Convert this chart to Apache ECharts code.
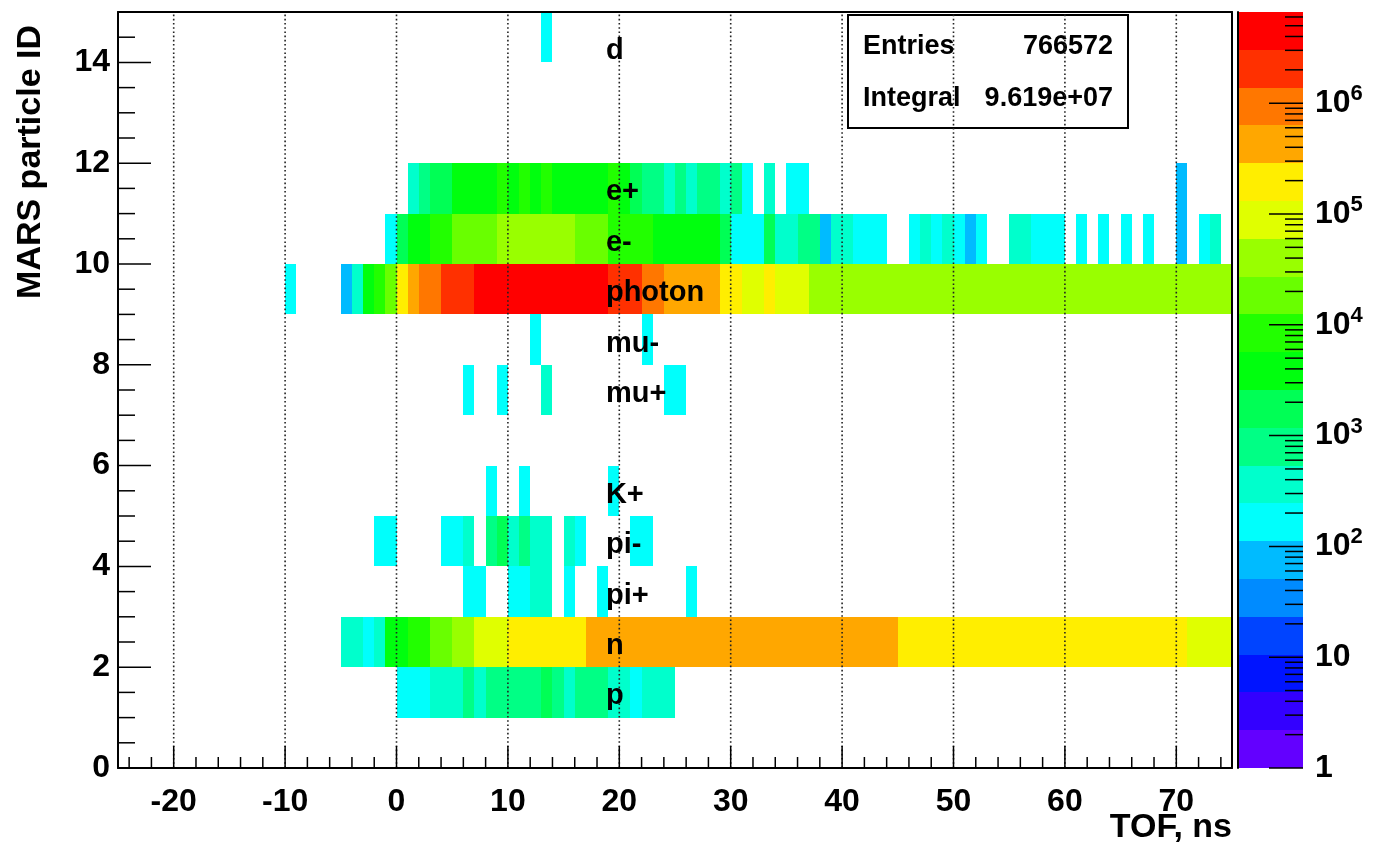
<!DOCTYPE html>
<html><head><meta charset="utf-8">
<script src="https://cdn.jsdelivr.net/npm/echarts@6/dist/echarts.min.js"></script>
<style>html,body{margin:0;padding:0;background:#fff}#c{width:1373px;height:844px}</style>
</head><body><div id="c"></div>
<script>
const FONT = '"Liberation Sans", Arial, Helvetica, sans-serif';

// ---- axes ranges ----
const xRange = [-25, 75];          // TOF, ns (1 ns bins)
const yRange = [0, 15];            // MARS particle ID
const zLogMax = 6.823;             // log10 of colour-scale maximum (min = 1)
const nContours = 20;

// ---- tick values ----
const xMajorTicks = [-20, -10, 0, 10, 20, 30, 40, 50, 60, 70];
const xMinorTicks = [-24,-22,-18,-16,-14,-12,-8,-6,-4,-2,2,4,6,8,12,14,16,18,22,24,26,28,32,34,36,38,42,44,46,48,52,54,56,58,62,64,66,68,72,74];
const yMajorTicks = [0, 2, 4, 6, 8, 10, 12, 14];
const yMinorTicks = [0.5,1,1.5,2.5,3,3.5,4.5,5,5.5,6.5,7,7.5,8.5,9,9.5,10.5,11,11.5,12.5,13,13.5,14.5];
const zMajorTicks = [0, 1, 2, 3, 4, 5, 6];
const zMinorMultipliers = [2, 3, 4, 5, 6, 7, 8, 9];

// ---- particle labels ----
const particleIds   = [1, 2, 3, 4, 5, 7, 8, 9, 10, 11, 14];
const particleNames = ['p', 'n', 'pi+', 'pi-', 'K+', 'mu+', 'mu-', 'photon', 'e-', 'e+', 'd'];
const labelY        = [1.42, 2.42, 3.42, 4.42, 5.42, 7.42, 8.42, 9.42, 10.42, 11.42, 14.22];
const labelX        = 18.8;

// ---- bin contents: first bin lower edge + contents of consecutive 1-ns bins (0 = empty) ----
const pStart = 0;
const pRow = [170,150,190,320,300,380,700,420,820,900,650,1000,1100,1900,950,480,760,850,700,400,360,200,330,290,310];

const nStart = -5;
const nRow = [350,300,200,400,3200,4500,7000,9500,15000,21000,36000,48000,70000,92000,115000,
  150000,165000,185000,200000,220000,240000,265000,
  310000,340000,370000,400000,430000,460000,480000,500000,520000,540000,560000,570000,580000,590000,
  600000,590000,580000,570000,560000,540000,520000,500000,480000,450000,420000,390000,360000,320000,
  270000,260000,250000,245000,240000,235000,230000,225000,220000,215000,210000,205000,200000,195000,
  190000,185000,180000,175000,170000,165000,160000,155000,150000,145000,140000,135000,
  125000,120000,115000,110000];

const piPlusStart = 6;
const piPlusRow = [150,140,0,0,180,200,300,280,0,160,0,0,130,0,0,0,0,0,0,0,150];

const piMinusStart = -2;
const piMinusRow = [170,150,0,0,0,0,180,160,290,0,600,1300,330,1050,380,340,0,300,190,0,0,0,0,150,140];

const kPlusStart = 8;
const kPlusRow = [140,0,0,160,0,0,0,0,0,0,0,130];

const muPlusStart = 6;
const muPlusRow = [150,0,0,170,0,0,0,320,0,0,0,0,0,0,0,0,0,0,160,180];

const muMinusStart = 12;
const muMinusRow = [150,0,0,0,0,0,0,0,0,0,140];

const photonStart = -10;
const photonRow = [130,0,0,0,0,70,330,4000,8000,15000,180000,380000,800000,1100000,1700000,2200000,2700000,
  3200000,3600000,4000000,4400000,4800000,5200000,5500000,5300000,5000000,4600000,4100000,3500000,
  2700000,2200000,1800000,1200000,900000,580000,500000,450000,400000,340000,260000,220000,
  120000,110000,140000,100000,90000,80000,
  50000,48000,47000,46000,45000,44000,44000,43000,42000,42000,41000,40000,40000,39000,39000,38000,38000,37000,37000,
  36000,36000,35000,35000,34000,34000,33000,33000,32000,32000,31000,31000,30000,30000,29000,29000,28500,28000,27500];

const eMinusStart = -1;
const eMinusRow = [150,1600,3000,3600,7000,8500,15000,18000,20000,22000,
  30000,34000,38000,42000,40000,36000,32000,24000,20000,16000,
  11000,9000,8000,7000,5000,4500,4200,3800,3400,3000,
  1500,200,180,160,1400,400,350,700,600,90,
  300,280,200,170,150,0,0,180,290,160,
  270,150,80,140,0,0,300,260,190,160,
  140,0,150,0,140,0,130,0,150,0,
  0,85,0,160,260];

const ePlusStart = 1;
const ePlusRow = [350,800,1500,1900,3000,3500,4000,4500,6000,5000,6500,5200,6200,5000,4800,5400,5500,5100,5800,4200,
  2000,1000,900,450,700,400,750,650,380,600,200,0,300,0,180,160,
  0,0,0,0,0,0,0,0,0,0,0,0,0,0,0,0,0,0,0,0,0,0,0,0,0,0,0,0,0,0,0,0,0,90];

const dStart = 13;
const dRow = [170];

// ---- colour palette (ROOT "pretty" palette, 20 contours, low -> high) ----
const paletteColors = ['#6300FF','#3300FF','#0014FF','#0044FF','#008BFF','#00BBFF','#00FFFC','#00FFCC','#00FF85','#00FF55',
  '#00FF0E','#22FF00','#69FF00','#99FF00','#E0FF00','#FFEE00','#FFA700','#FF7700','#FF3000','#FF0000'];

// ---- stats box ----
const statsLabels = ['Entries', 'Integral'];
const statsValues = ['766572', '9.619e+07'];

// =====================================================================
const rows = [
  [1, pStart, pRow], [2, nStart, nRow], [3, piPlusStart, piPlusRow], [4, piMinusStart, piMinusRow],
  [5, kPlusStart, kPlusRow], [7, muPlusStart, muPlusRow], [8, muMinusStart, muMinusRow],
  [9, photonStart, photonRow], [10, eMinusStart, eMinusRow], [11, ePlusStart, ePlusRow], [14, dStart, dRow]
];
const cells = [];
rows.forEach(([id, start, vals]) => vals.forEach((v, i) => { if (v > 0) cells.push([start + i, id, v]); }));

const step = zLogMax / nContours;
const pieces = paletteColors.map((c, k) => ({ gte: Math.pow(10, k * step), lt: k === nContours - 1 ? 1e12 : Math.pow(10, (k + 1) * step), color: c }));
const paletteBands = paletteColors.map((c, k) => [k * step, (k + 1) * step, k]);

const zTicks = [];
zMajorTicks.forEach(e => zTicks.push([1, e, 1]));
for (let e = 0; e < 7; e++) zMinorMultipliers.forEach(m => { const v = e + Math.log10(m); if (v < zLogMax) zTicks.push([1, v, 0]); });

const xTickData = xMajorTicks.map(v => [v, yRange[0], 1]).concat(xMinorTicks.map(v => [v, yRange[0], 0]));
const yTickData = yMajorTicks.map(v => [xRange[0], v, 1]).concat(yMinorTicks.map(v => [xRange[0], v, 0]));
const gridData = xMajorTicks.map(v => [v, yRange[0]]);
const labelData = particleIds.map((id, i) => [labelX, labelY[i], i]);

const lbl = (size) => ({ fontFamily: FONT, fontWeight: 'bold', fontSize: size, color: '#000' });

const chart = echarts.init(document.getElementById('c'));
chart.setOption({
  animation: false,
  backgroundColor: '#fff',
  grid: [
    { left: 118, top: 12, width: 1114, height: 756 },
    { left: 1238, top: 12, width: 65, height: 756 }
  ],
  xAxis: [
    { gridIndex: 0, type: 'value', min: xRange[0], max: xRange[1], interval: 5, z: 10,
      axisLine: { show: true, onZero: false, lineStyle: { color: '#000', width: 2 } },
      axisTick: { show: false }, splitLine: { show: false },
      axisLabel: Object.assign(lbl(32), { margin: 18, formatter: v => (v % 10 === 0 ? String(v) : '') }) },
    { gridIndex: 0, type: 'value', position: 'top', min: xRange[0], max: xRange[1], z: 10,
      axisLine: { show: true, onZero: false, lineStyle: { color: '#000', width: 2 } },
      axisTick: { show: false }, axisLabel: { show: false }, splitLine: { show: false } },
    { gridIndex: 1, type: 'value', min: 0, max: 1, show: false }
  ],
  yAxis: [
    { gridIndex: 0, type: 'value', min: yRange[0], max: yRange[1], interval: 2, z: 10,
      axisLine: { show: true, onZero: false, lineStyle: { color: '#000', width: 2 } },
      axisTick: { show: false }, splitLine: { show: false },
      axisLabel: Object.assign(lbl(32), { margin: 8, formatter: v => (v <= 14 ? String(v) : '') }) },
    { gridIndex: 0, type: 'value', position: 'right', min: yRange[0], max: yRange[1], z: 10,
      axisLine: { show: true, onZero: false, lineStyle: { color: '#000', width: 2 } },
      axisTick: { show: false }, axisLabel: { show: false }, splitLine: { show: false } },
    { gridIndex: 1, type: 'value', position: 'right', min: 0, max: zLogMax, interval: 1, z: 10,
      axisLine: { show: true, lineStyle: { color: '#000', width: 2 } },
      axisTick: { show: false }, splitLine: { show: false },
      axisLabel: { margin: 12, fontFamily: FONT, fontWeight: 'bold', fontSize: 32, color: '#000',
        formatter: v => { if (Math.abs(v - Math.round(v)) > 1e-6) return ''; const e = Math.round(v);
          return e === 0 ? '{b|1}' : e === 1 ? '{b|10}' : '{b|10}{s|' + e + '}'; },
        rich: { b: { fontFamily: FONT, fontWeight: 'bold', fontSize: 32, color: '#000' },
                s: { fontFamily: FONT, fontWeight: 'bold', fontSize: 22, color: '#000', padding: [0, 0, 18, 0] } } } }
  ],
  visualMap: { type: 'piecewise', show: false, seriesIndex: 0, dimension: 2, pieces: pieces },
  graphic: [
    { type: 'text', left: 14, top: 25, rotation: Math.PI / 2, z: 20,
      style: { text: 'MARS particle ID', font: 'bold 34px ' + FONT, fill: '#000' } },
    { type: 'text', x: 1232, y: 828, z: 20,
      style: { text: 'TOF, ns', font: 'bold 34px ' + FONT, fill: '#000', align: 'right', verticalAlign: 'middle' } },
    { type: 'group', left: 847, top: 14, z: 20, children: [
      { type: 'rect', shape: { x: 0, y: 0, width: 280, height: 113 }, style: { fill: '#fff', stroke: '#000', lineWidth: 2 } },
      { type: 'text', x: 15, y: 32, style: { text: statsLabels[0], font: 'bold 27px ' + FONT, fill: '#000', verticalAlign: 'middle' } },
      { type: 'text', x: 265, y: 32, style: { text: statsValues[0], font: 'bold 27px ' + FONT, fill: '#000', align: 'right', verticalAlign: 'middle' } },
      { type: 'text', x: 15, y: 84, style: { text: statsLabels[1], font: 'bold 27px ' + FONT, fill: '#000', verticalAlign: 'middle' } },
      { type: 'text', x: 265, y: 84, style: { text: statsValues[1], font: 'bold 27px ' + FONT, fill: '#000', align: 'right', verticalAlign: 'middle' } }
    ] }
  ],
  series: [
    { type: 'custom', name: 'hist', xAxisIndex: 0, yAxisIndex: 0, z: 2, data: cells, encode: { x: 0, y: 1 },
      renderItem: (params, api) => {
        const a = api.coord([api.value(0), api.value(1) + 1]);
        const b = api.coord([api.value(0) + 1, api.value(1)]);
        const x0 = Math.round(a[0]), y0 = Math.round(a[1]), x1 = Math.round(b[0]), y1 = Math.round(b[1]);
        return { type: 'rect', shape: { x: x0, y: y0, width: x1 - x0, height: y1 - y0 }, style: { fill: api.visual('color') } };
      } },
    { type: 'custom', name: 'grid', xAxisIndex: 0, yAxisIndex: 0, z: 3, silent: true, data: gridData, encode: { x: 0, y: 1 },
      renderItem: (params, api) => {
        const a = api.coord([api.value(0), yRange[0]]);
        const b = api.coord([api.value(0), yRange[1]]);
        return { type: 'line', shape: { x1: a[0], y1: a[1], x2: b[0], y2: b[1] }, style: { stroke: '#222', lineWidth: 1.6, lineDash: [1.6, 2.6] } };
      } },
    { type: 'custom', name: 'xticks', xAxisIndex: 0, yAxisIndex: 0, z: 4, silent: true, data: xTickData, encode: { x: 0, y: 1 },
      renderItem: (params, api) => {
        const a = api.coord([api.value(0), api.value(1)]);
        const len = api.value(2) ? 22 : 11;
        return { type: 'line', shape: { x1: a[0], y1: a[1], x2: a[0], y2: a[1] - len }, style: { stroke: '#000', lineWidth: 1.5 } };
      } },
    { type: 'custom', name: 'yticks', xAxisIndex: 0, yAxisIndex: 0, z: 4, silent: true, data: yTickData, encode: { x: 0, y: 1 },
      renderItem: (params, api) => {
        const a = api.coord([api.value(0), api.value(1)]);
        const len = api.value(2) ? 33 : 17;
        return { type: 'line', shape: { x1: a[0], y1: a[1], x2: a[0] + len, y2: a[1] }, style: { stroke: '#000', lineWidth: 1.5 } };
      } },
    { type: 'custom', name: 'labels', xAxisIndex: 0, yAxisIndex: 0, z: 5, silent: true, data: labelData, encode: { x: 0, y: 1 },
      renderItem: (params, api) => {
        const a = api.coord([api.value(0), api.value(1)]);
        return { type: 'text', x: a[0], y: a[1], style: { text: particleNames[api.value(2)], font: 'bold 29px ' + FONT, fill: '#000', align: 'left', verticalAlign: 'middle' } };
      } },
    { type: 'custom', name: 'palette', xAxisIndex: 2, yAxisIndex: 2, z: 2, silent: true, data: paletteBands, encode: { y: [0, 1] },
      renderItem: (params, api) => {
        const a = api.coord([0, api.value(1)]);
        const b = api.coord([1, api.value(0)]);
        const y0 = Math.round(a[1]), y1 = Math.round(b[1]);
        return { type: 'rect', shape: { x: a[0], y: y0, width: b[0] - a[0], height: y1 - y0 }, style: { fill: paletteColors[api.value(2)] } };
      } },
    { type: 'custom', name: 'zticks', xAxisIndex: 2, yAxisIndex: 2, z: 4, silent: true, data: zTicks, encode: { x: 0, y: 1 },
      renderItem: (params, api) => {
        const a = api.coord([api.value(0), api.value(1)]);
        const len = api.value(2) ? 34 : 18;
        return { type: 'line', shape: { x1: a[0], y1: a[1], x2: a[0] - len, y2: a[1] }, style: { stroke: '#000', lineWidth: 1.5 } };
      } }
  ]
});
</script></body></html>
